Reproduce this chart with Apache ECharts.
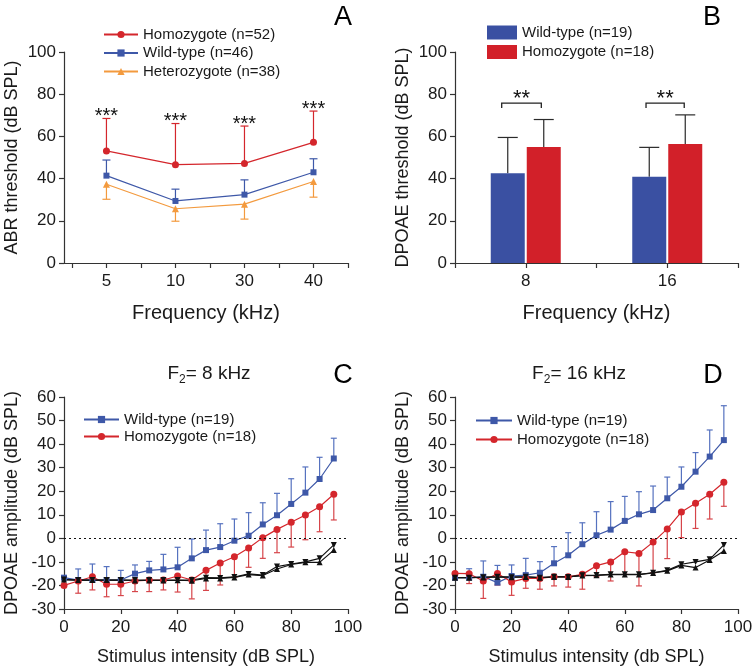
<!DOCTYPE html>
<html><head><meta charset="utf-8">
<script src="https://cdn.jsdelivr.net/npm/echarts@6/dist/echarts.min.js"></script>
<style>html,body{margin:0;padding:0;background:#fff}#c{width:756px;height:670px}</style>
</head><body><div id="c"></div>
<script>
const FONT = '"Liberation Sans", Arial, Helvetica, sans-serif';

// ---------- Panel A: ABR thresholds ----------
const freqA = ['5', '10', '30', '40'];
const homA   = [53.1, 46.6, 47.2, 57.2];
const homASD = [15.4, 19.5, 17.7, 14.8];
const wtA    = [41.4, 29.4, 32.4, 43.0];
const wtASD  = [7.4, 5.6, 7.0, 6.4];
const hetA   = [37.3, 25.7, 27.9, 38.6];
const hetASD = [7.1, 5.9, 7.1, 7.4];
const starsA = ['***', '***', '***', '***'];

// ---------- Panel B: DPOAE thresholds ----------
const freqB = ['8', '16'];
const wtB    = [42.5, 40.9];
const wtBSD  = [17.0, 13.9];
const homB   = [55.0, 56.4];
const homBSD = [13.0, 13.8];
// significance brackets: [xLeft, xRight, top, legBottom]
const bracketsB = [[0.83, 1.11, 75.8, 73.5], [1.85, 2.12, 75.8, 73.5]];
const starsB = ['**', '**'];

// ---------- Panels C & D: DPOAE I/O ----------
const stim = [0, 5, 10, 15, 20, 25, 30, 35, 40, 45, 50, 55, 60, 65, 70, 75, 80, 85, 90, 95];

const wtC    = [-16.7, -17.7, -17.7, -17.7, -17.7, -15.0, -13.6, -13.2, -12.3, -8.5, -5.0, -3.7, -1.0, 1.1, 5.9, 9.8, 14.6, 19.4, 25.2, 33.9];
const wtCSD  = [0, 4.7, 6.8, 5.7, 4.1, 3.7, 3.8, 6.4, 8.5, 8.2, 8.5, 9.9, 9.2, 9.8, 9.2, 9.3, 10.7, 10.9, 9.2, 8.6];
const homC   = [-20.0, -18.1, -16.3, -19.5, -19.5, -18.1, -17.7, -17.7, -16.0, -17.7, -13.6, -10.5, -7.8, -4.1, 0.3, 3.8, 6.8, 9.9, 13.4, 18.7];
const homCSD = [0, 5.2, 5.6, 5.3, 4.8, 4.5, 4.9, 4.2, 6.8, 8.0, 8.5, 9.3, 8.7, 8.2, 8.8, 9.9, 10.5, 10.5, 10.6, 10.9];
const nfDownC = [-17.5, -17.7, -17.7, -17.7, -17.7, -17.7, -17.7, -17.7, -17.7, -17.7, -16.7, -16.8, -16.4, -15.1, -15.6, -12.0, -10.9, -10.0, -8.5, -2.8];
const nfUpC   = [-17.5, -17.7, -17.7, -17.7, -17.7, -17.9, -17.9, -17.9, -17.8, -18.0, -17.0, -17.0, -16.6, -15.4, -15.8, -13.0, -11.1, -10.2, -10.2, -5.0];

const wtD    = [-16.7, -16.7, -16.3, -18.8, -16.0, -15.6, -14.6, -10.6, -7.2, -2.5, 1.3, 3.7, 7.4, 10.2, 12.0, 17.0, 21.9, 28.3, 34.7, 41.7];
const wtDSD  = [0, 3.8, 6.7, 7.3, 4.7, 7.1, 4.7, 7.1, 9.6, 9.1, 10.0, 11.9, 10.4, 9.6, 10.2, 9.0, 8.4, 8.1, 11.3, 14.6];
const homD   = [-14.9, -15.0, -18.1, -14.9, -18.5, -17.0, -17.0, -16.3, -16.3, -15.3, -11.6, -10.0, -5.7, -6.4, -1.6, 4.0, 11.2, 14.9, 18.7, 23.8];
const homDSD = [2.0, 4.2, 7.4, 4.9, 5.7, 4.2, 4.6, 3.9, 4.4, 6.3, 4.7, 8.1, 9.6, 13.8, 13.0, 12.6, 10.9, 10.7, 10.5, 10.2];
const nfDownD = [-16.7, -16.7, -16.5, -16.3, -16.5, -16.3, -16.7, -16.3, -16.4, -15.7, -15.6, -15.3, -15.3, -15.3, -14.6, -13.6, -11.0, -10.0, -8.9, -2.8];
const nfUpD   = [-16.7, -16.7, -16.6, -16.4, -16.5, -16.4, -16.7, -16.4, -16.4, -15.8, -15.7, -15.4, -15.4, -15.4, -14.7, -13.8, -11.5, -12.4, -9.2, -5.4];

const LABELS = {
  A_hom: 'Homozygote (n=52)', A_wt: 'Wild-type (n=46)', A_het: 'Heterozygote (n=38)',
  B_wt: 'Wild-type (n=19)', B_hom: 'Homozygote (n=18)',
  C_wt: 'Wild-type (n=19)', C_hom: 'Homozygote (n=18)',
  D_wt: 'Wild-type (n=19)', D_hom: 'Homozygote (n=18)'
};

const RED = '#d4262c', BLUE = '#3e58a8', ORANGE = '#f39a3e', BLACK = '#111';
const RED_ERR = '#d6454a', BLUE_ERR = '#5672bf';
const BAR_BLUE = '#3a50a2', BAR_RED = '#d22029';
const AX = '#333', TXT = '#1a1a1a';
const BAR_W = 34, BAR_GAP_PX = 2;

function errSeries(xi, xs, ys, sd, dir, color, cap, pxOffset, width) {
  return {
    type: 'custom', xAxisIndex: xi, yAxisIndex: xi, silent: true,
    data: xs.map((x, i) => [x, ys[i], ys[i] + dir * sd[i]]),
    encode: { x: 0, y: [1, 2] },
    renderItem(params, api) {
      if (api.value(1) === api.value(2)) return null;
      const p0 = api.coord([api.value(0), api.value(1)]);
      const p1 = api.coord([api.value(0), api.value(2)]);
      const x = p0[0] + (pxOffset || 0);
      const st = { stroke: color, lineWidth: width || 1.2 };
      return { type: 'group', children: [
        { type: 'line', shape: { x1: x, y1: p0[1], x2: x, y2: p1[1] }, style: st },
        { type: 'line', shape: { x1: x - cap, y1: p1[1], x2: x + cap, y2: p1[1] }, style: st }
      ]};
    }
  };
}

function lineSeries(name, xi, xs, ys, color, symbol, size, extra) {
  return Object.assign({
    name, type: 'line', xAxisIndex: xi, yAxisIndex: xi,
    data: xs.map((x, i) => [x, ys[i]]),
    symbol, symbolSize: size, showSymbol: true,
    lineStyle: { color, width: 1.2 }, itemStyle: { color },
    animation: false
  }, extra || {});
}

function axisBase() {
  return {
    axisLine: { onZero: false, lineStyle: { color: AX, width: 1.2 } },
    axisTick: { inside: false, length: 5, lineStyle: { color: AX, width: 1.2 } },
    axisLabel: { color: TXT, fontSize: 17, fontFamily: FONT, margin: 8 },
    splitLine: { show: false },
    nameTextStyle: { color: TXT, fontSize: 18, fontFamily: FONT }
  };
}
function yAxis(gi, min, max, interval, name) {
  return Object.assign(axisBase(), { type: 'value', gridIndex: gi, min, max, interval,
    name, nameLocation: 'middle', nameGap: 43 });
}

const xA = Object.assign(axisBase(), {
  type: 'value', gridIndex: 0, min: 0.385, max: 4.5,
  name: 'Frequency (kHz)', nameLocation: 'middle', nameGap: 40
});
xA.axisTick.customValues = [0.5, 1, 1.5, 2, 2.5, 3, 3.5, 4, 4.5];
xA.axisLabel.customValues = [1, 2, 3, 4];
xA.axisLabel.formatter = v => freqA[Math.round(v) - 1];
xA.axisLabel.margin = 10;
xA.nameTextStyle.fontSize = 20;

const xB = Object.assign(axisBase(), {
  type: 'value', gridIndex: 1, min: 0.5, max: 2.5, interval: 0.5,
  name: 'Frequency (kHz)', nameLocation: 'middle', nameGap: 40
});
xB.axisLabel.formatter = v => (Number.isInteger(v) ? freqB[v - 1] : '');
xB.axisLabel.margin = 10;
xB.nameTextStyle.fontSize = 20;

function xStim(gi, name) {
  const a = Object.assign(axisBase(), { type: 'value', gridIndex: gi, min: 0, max: 100, interval: 20,
    name, nameLocation: 'middle', nameGap: 39 });
  a.axisLabel.margin = 10;
  return a;
}

const xsA = freqA.map((f, i) => i + 1);
const xsB = freqB.map((f, i) => i + 1);
const offB = (BAR_W + BAR_GAP_PX) / 2;

const series = [
  // ----- A -----
  errSeries(0, xsA, homA, homASD, 1, RED, 4),
  errSeries(0, xsA, wtA, wtASD, 1, BLUE, 4),
  errSeries(0, xsA, hetA, hetASD, -1, ORANGE, 4),
  lineSeries('A_het', 0, xsA, hetA, ORANGE, 'triangle', 7),
  lineSeries('A_wt', 0, xsA, wtA, BLUE, 'rect', 6),
  lineSeries('A_hom', 0, xsA, homA, RED, 'circle', 7),
  {
    type: 'custom', xAxisIndex: 0, yAxisIndex: 0, silent: true,
    data: xsA.map((x, i) => [x, homA[i] + homASD[i]]),
    renderItem(params, api) {
      const p = api.coord([api.value(0), api.value(1)]);
      return { type: 'text', x: p[0], y: p[1] - 2, style: { text: starsA[params.dataIndex],
        fontSize: 20, fontFamily: FONT, fill: '#111', align: 'center', verticalAlign: 'middle' } };
    }
  },
  // ----- B -----
  { name: 'B_wt', type: 'bar', xAxisIndex: 1, yAxisIndex: 1, barWidth: BAR_W,
    barGap: (BAR_GAP_PX / BAR_W * 100) + '%', itemStyle: { color: BAR_BLUE },
    data: xsB.map((x, i) => [x, wtB[i]]), animation: false },
  { name: 'B_hom', type: 'bar', xAxisIndex: 1, yAxisIndex: 1, barWidth: BAR_W,
    barGap: (BAR_GAP_PX / BAR_W * 100) + '%', itemStyle: { color: BAR_RED },
    data: xsB.map((x, i) => [x, homB[i]]), animation: false },
  errSeries(1, xsB, wtB, wtBSD, 1, '#2a2a2a', 10, -offB),
  errSeries(1, xsB, homB, homBSD, 1, '#2a2a2a', 10, offB),
  {
    type: 'custom', xAxisIndex: 1, yAxisIndex: 1, silent: true,
    data: bracketsB,
    encode: { x: [0, 1], y: [2, 3] },
    renderItem(params, api) {
      const a = api.coord([api.value(0), api.value(3)]);
      const b = api.coord([api.value(0), api.value(2)]);
      const c = api.coord([api.value(1), api.value(2)]);
      const d = api.coord([api.value(1), api.value(3)]);
      return { type: 'group', children: [
        { type: 'polyline', shape: { points: [a, b, c, d] }, style: { stroke: '#222', lineWidth: 1.3, fill: null } },
        { type: 'text', x: (b[0] + c[0]) / 2, y: b[1] - 4, style: { text: starsB[params.dataIndex],
          fontSize: 22, fontFamily: FONT, fill: '#111', align: 'center', verticalAlign: 'middle' } }
      ]};
    }
  },
  // ----- C -----
  errSeries(2, stim, wtC, wtCSD, 1, BLUE_ERR, 3),
  errSeries(2, stim, homC, homCSD, -1, RED_ERR, 3),
  lineSeries('C_wt', 2, stim, wtC, BLUE, 'rect', 6, {
    markLine: { silent: true, symbol: 'none', label: { show: false },
      lineStyle: { color: '#111', type: [2, 3], width: 1.2 }, data: [{ yAxis: 0 }] } }),
  lineSeries('C_hom', 2, stim, homC, RED, 'circle', 7),
  lineSeries('C_nfd', 2, stim, nfDownC, BLACK, 'triangle', 6, { symbolRotate: 180 }),
  lineSeries('C_nfu', 2, stim, nfUpC, BLACK, 'triangle', 6),
  // ----- D -----
  errSeries(3, stim, wtD, wtDSD, 1, BLUE_ERR, 3),
  errSeries(3, stim, homD, homDSD, -1, RED_ERR, 3),
  lineSeries('D_wt', 3, stim, wtD, BLUE, 'rect', 6, {
    markLine: { silent: true, symbol: 'none', label: { show: false },
      lineStyle: { color: '#111', type: [2, 3], width: 1.2 }, data: [{ yAxis: 0 }] } }),
  lineSeries('D_hom', 3, stim, homD, RED, 'circle', 7),
  lineSeries('D_nfd', 3, stim, nfDownD, BLACK, 'triangle', 6, { symbolRotate: 180 }),
  lineSeries('D_nfu', 3, stim, nfUpD, BLACK, 'triangle', 6)
];

function legend(data, left, top, itemWidth, itemHeight, gap, icon) {
  const l = { data, left, top, orient: 'vertical', itemWidth, itemHeight, itemGap: gap,
    selectedMode: false, padding: 0, formatter: n => LABELS[n],
    textStyle: { color: TXT, fontSize: 15, fontFamily: FONT, padding: [0, 0, 0, 0] } };
  if (icon) l.icon = icon;
  return l;
}

function subTitle(x, y, rest) {
  return { type: 'text', x, y, style: {
    text: '{a|F}{s|2}{a|' + rest + '}', align: 'center', verticalAlign: 'middle',
    rich: { a: { fontSize: 19, fontFamily: FONT, fill: TXT, lineHeight: 24 },
            s: { fontSize: 12, fontFamily: FONT, fill: TXT, lineHeight: 24, verticalAlign: 'bottom' } } } };
}
function letter(x, y, t) {
  return { type: 'text', x, y, style: { text: t, fontSize: 27, fontFamily: FONT, fill: '#000',
    align: 'center', verticalAlign: 'middle' } };
}

const chart = echarts.init(document.getElementById('c'), null, { renderer: 'canvas' });
chart.setOption({
  animation: false,
  backgroundColor: '#fff',
  textStyle: { fontFamily: FONT },
  grid: [
    { left: 64, top: 52, width: 284, height: 211 },
    { left: 455, top: 52, width: 283, height: 211 },
    { left: 64, top: 397, width: 284, height: 212 },
    { left: 455, top: 397, width: 283, height: 212 }
  ],
  xAxis: [xA, xB, xStim(2, 'Stimulus intensity (dB SPL)'), xStim(3, 'Stimulus intensity (db SPL)')],
  yAxis: [
    yAxis(0, 0, 100, 20, 'ABR threshold (dB SPL)'),
    yAxis(1, 0, 100, 20, 'DPOAE threshold (dB SPL)'),
    yAxis(2, -30, 60, 10, 'DPOAE amplitude (dB SPL)'),
    yAxis(3, -30, 60, 10, 'DPOAE amplitude (dB SPL)')
  ],
  legend: [
    legend(['A_hom', 'A_wt', 'A_het'], 103, 27, 34, 9, 3.5),
    legend(['B_wt', 'B_hom'], 487, 25, 30, 14, 4.5, 'rect'),
    legend(['C_wt', 'C_hom'], 83, 412, 35, 9, 2),
    legend(['D_wt', 'D_hom'], 475, 413, 36, 9, 4)
  ],
  graphic: [
    letter(343, 18, 'A'), letter(712, 18, 'B'), letter(343, 376, 'C'), letter(713, 376, 'D'),
    subTitle(209, 374, '= 8 kHz'), subTitle(579, 374, '= 16 kHz')
  ],
  series
});
</script>
</body></html>
